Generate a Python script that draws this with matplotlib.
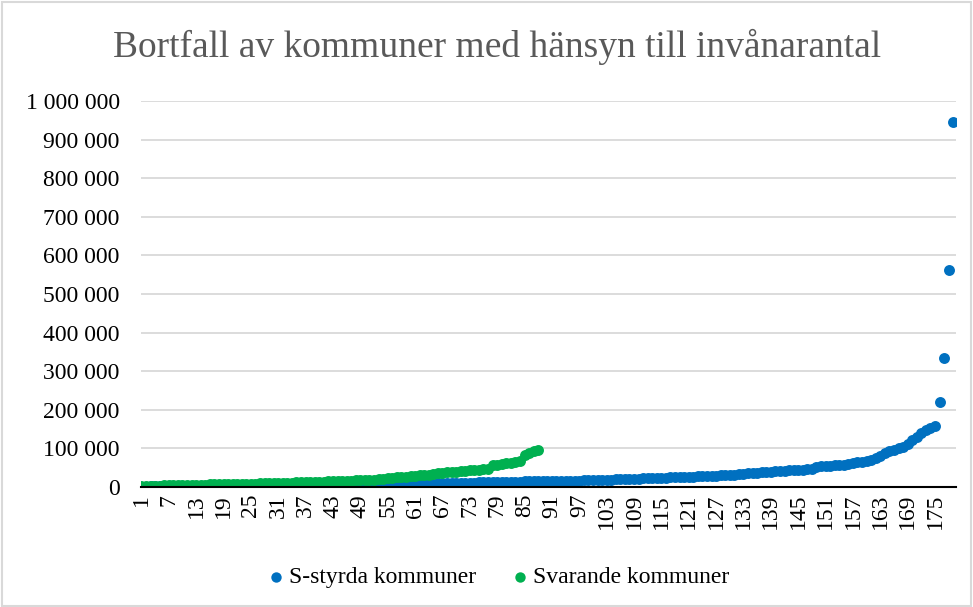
"""Bortfall av kommuner med hänsyn till invånarantal - sorted scatter."""

import matplotlib

matplotlib.use("Agg")
import matplotlib.pyplot as plt  # noqa: E402
from matplotlib.patches import Rectangle  # noqa: E402
from matplotlib.ticker import FuncFormatter  # noqa: E402

TITLE = "Bortfall av kommuner med hänsyn till invånarantal"
SERIES_NAMES = ["S-styrda kommuner", "Svarande kommuner"]

# invånare, in thousands, sorted ascending
s_styrda_k = [
    1.0, 1.2, 1.3, 1.4, 1.5, 1.6, 1.7, 1.8, 1.9, 2.0,
    2.1, 2.2, 2.2, 2.3, 2.4, 2.5, 2.5, 2.6, 2.7, 2.8,
    2.9, 2.9, 3.0, 3.1, 3.1, 3.2, 3.3, 3.3, 3.4, 3.5,
    3.6, 3.6, 3.7, 3.8, 3.8, 3.9, 4.0, 4.0, 4.1, 4.2,
    4.3, 4.3, 4.4, 4.5, 4.6, 4.7, 4.7, 4.8, 4.9, 5.0,
    5.1, 5.3, 5.5, 5.7, 6.0, 6.3, 6.6, 6.9, 7.2, 7.5,
    7.8, 8.1, 8.4, 8.7, 9.0, 9.3, 9.6, 9.9, 10.2, 10.5,
    10.8, 11.0, 11.3, 11.5, 11.8, 12.0, 12.3, 12.5, 12.8, 13.0,
    13.3, 13.5, 13.8, 14.0, 14.3, 14.5, 14.7, 14.9, 15.1, 15.3,
    15.5, 15.7, 15.9, 16.1, 16.3, 16.5, 16.8, 17.1, 17.4, 17.7,
    18.0, 18.4, 18.8, 19.2, 19.6, 20.0, 20.5, 21.0, 21.5, 22.0,
    22.5, 23.0, 23.4, 23.8, 24.2, 24.6, 25.0, 25.4, 25.8, 26.2,
    26.6, 27.0, 27.4, 27.8, 28.3, 28.8, 29.4, 30.0, 30.7, 31.5,
    32.3, 33.2, 34.1, 35.0, 36.0, 37.0, 38.0, 39.0, 39.8, 40.6,
    41.4, 42.2, 43.0, 43.8, 44.5, 45.2, 45.9, 46.6, 52.0, 53.5,
    54.5, 55.5, 56.3, 57.0, 57.8, 59.0, 61.0, 63.5, 66.0, 68.5,
    71.0, 74.0, 80.0, 88.0, 93.0, 97.0, 100.5, 104.0, 112.0, 122.0,
    130.0, 139.0, 147.0, 153.0, 158.0, 219.0, 333.0, 563.0, 946.0,
]

svarande_k = [
    2.5, 2.8, 3.1, 3.4, 3.7, 4.0, 4.3, 4.5, 4.8, 5.0,
    5.3, 5.5, 5.8, 6.0, 6.3, 6.5, 6.8, 7.0, 7.3, 7.5,
    7.8, 8.0, 8.3, 8.5, 8.8, 9.0, 9.3, 9.6, 9.9, 10.2,
    10.5, 10.8, 11.1, 11.4, 11.7, 12.0, 12.4, 12.8, 13.2, 13.6,
    14.0, 14.4, 14.8, 15.2, 15.6, 16.0, 16.5, 17.0, 17.5, 18.0,
    18.6, 19.3, 20.2, 21.3, 22.5, 23.8, 25.0, 26.0, 27.0, 28.0,
    29.0, 30.0, 31.0, 32.0, 33.5, 35.0, 36.5, 38.0, 39.0, 40.0,
    41.0, 42.0, 43.0, 44.0, 45.0, 46.0, 47.0, 56.0, 57.5, 59.0,
    61.0, 63.0, 65.0, 67.0, 84.0, 88.0, 92.0, 96.0,
]

x_tick_labels = list(range(1, 176, 6))
y_ticks = list(range(0, 1_000_001, 100_000))

BLUE = "#0070C0"
GREEN = "#00B050"
GRID = "#D9D9D9"

plt.rcParams["font.family"] = ["Liberation Serif", "DejaVu Serif"]

fig = plt.figure(figsize=(9.73, 6.07), dpi=100)
ax = fig.add_axes([140.5 / 973, 1 - 487 / 607, (956 - 140.5) / 973, (487 - 101) / 607])

x_s = range(1, len(s_styrda_k) + 1)
x_v = range(1, len(svarande_k) + 1)
ax.scatter(x_s, [v * 1000 for v in s_styrda_k], s=62, color=BLUE,
           linewidths=0, label=SERIES_NAMES[0], zorder=3)
ax.scatter(x_v, [v * 1000 for v in svarande_k], s=62, color=GREEN,
           linewidths=0, label=SERIES_NAMES[1], zorder=4)

ax.set_xlim(0.8, 179.6)
ax.set_ylim(0, 1_000_000)
ax.set_yticks(y_ticks)
ax.yaxis.set_major_formatter(FuncFormatter(lambda v, _: f"{v:,.0f}".replace(",", " ")))
ax.set_xticks(x_tick_labels)
ax.set_xticklabels([str(t) for t in x_tick_labels], rotation=90)
ax.tick_params(axis="both", length=0, labelsize=17, colors="black")
ax.tick_params(axis="y", pad=15)
ax.tick_params(axis="x", pad=5)
ax.grid(axis="y", color=GRID, linewidth=1.3)
ax.set_axisbelow(True)
for side in ("top", "right", "left"):
    ax.spines[side].set_visible(False)
ax.spines["bottom"].set_color("black")
ax.spines["bottom"].set_linewidth(1.5)
ax.spines["bottom"].set_zorder(5)

fig.text(0.511, 1 - 47 / 607, TITLE, ha="center", va="center",
         fontsize=27, color="#595959")

fig.legend(loc="center", bbox_to_anchor=(0.5103, 1 - 577 / 607), ncol=2,
           frameon=False, fontsize=17, markerscale=0.95, handletextpad=0.05,
           columnspacing=1.36, handlelength=1.0)

fig.patches.append(Rectangle((0.002, 0.002), 0.996, 0.995, transform=fig.transFigure,
                             fill=False, edgecolor=GRID, linewidth=1.5))

fig.savefig("out.png", dpi=100)
plt.close(fig)
